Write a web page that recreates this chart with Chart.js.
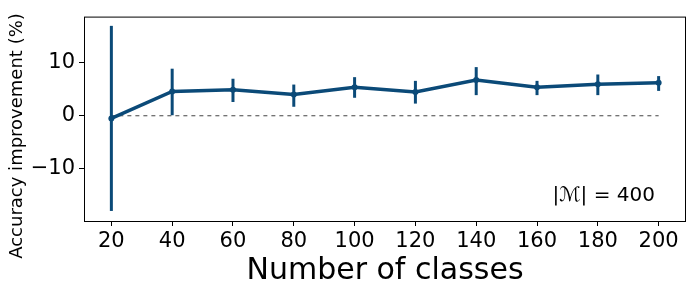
<!DOCTYPE html>
<html>
<head>
<meta charset="utf-8">
<script src="https://cdn.jsdelivr.net/npm/chart.js@4"></script>
<style>
  html, body { margin: 0; padding: 0; background: #fff; }
  #wrap { width: 700px; height: 300px; }
</style>
</head>
<body>
<div id="wrap"><canvas id="accChart" width="700" height="300"></canvas></div>
<script>
// values
const numClasses = [20, 40, 60, 80, 100, 120, 140, 160, 180, 200];
const improvement = [-0.5, 4.6, 4.9, 4.0, 5.4, 4.5, 6.75, 5.4, 5.95, 6.25];
const errLow  = [-18.0, 0.1, 2.6, 1.7, 3.4, 2.3, 3.9, 3.9, 3.9, 4.7];
const errHigh = [17.0, 8.9, 7.0, 5.9, 7.3, 6.6, 9.2, 6.6, 7.8, 7.5];
const xTicks = [20, 40, 60, 80, 100, 120, 140, 160, 180, 200];
const yTicks = [-10, 0, 10];

const lineColor = '#0b4a78';
const ctx = document.getElementById('accChart').getContext('2d');

// error bars, frame box, y label and annotation
const errorBars = {
    id: 'errorBars',
    afterDatasetsDraw(chart) {
        const { ctx, chartArea, scales } = chart;
        ctx.save();
        ctx.strokeStyle = lineColor;
        ctx.lineWidth = 3;
        numClasses.forEach((c, i) => {
            const x = scales.x.getPixelForValue(c);
            ctx.beginPath();
            ctx.moveTo(x, scales.y.getPixelForValue(errLow[i]));
            ctx.lineTo(x, scales.y.getPixelForValue(errHigh[i]));
            ctx.stroke();
        });
        ctx.strokeStyle = '#000';
        ctx.lineWidth = 1;
        ctx.strokeRect(chartArea.left + 0.5, chartArea.top + 0.5,
            chartArea.right - chartArea.left - 1, chartArea.bottom - chartArea.top);
        ctx.restore();
    },
    afterDraw(chart) {
        const { ctx, chartArea } = chart;
        ctx.save();
        ctx.font = '20px "DejaVu Sans"';
        ctx.fillStyle = '#000';
        ctx.textAlign = 'right';
        ctx.textBaseline = 'alphabetic';
        ctx.fillText('|ℳ| = 400', chartArea.right - 31, chartArea.bottom - 20);

        // y axis label (offset like the original figure)
        ctx.font = '18px "DejaVu Sans"';
        ctx.textAlign = 'center';
        ctx.translate(22, 136);
        ctx.rotate(-Math.PI / 2);
        ctx.fillText('Accuracy improvement (%)', 0, 0);
        ctx.restore();
    }
};

let chart = new Chart(ctx, {
    type: 'line',
    data: {
        datasets: [{
            data: numClasses.map((c, i) => ({ x: c, y: improvement[i] })),
            borderColor: lineColor,
            backgroundColor: lineColor,
            borderWidth: 3.5,
            pointRadius: 3,
            pointBorderWidth: 0,
            tension: 0
        }, {
            data: [{ x: numClasses[0], y: 0 }, { x: numClasses[numClasses.length - 1], y: 0 }],
            borderColor: '#444',
            borderWidth: 1,
            borderDash: [4, 4],
            pointRadius: 0
        }]
    },
    options: {
        responsive: false,
        animation: false,
        layout: { padding: { top: 15, right: 14, left: 0, bottom: 0 } },
        plugins: { legend: { display: false }, tooltip: { enabled: false } },
        scales: {
            x: {
                type: 'linear',
                min: 11,
                max: 209,
                afterBuildTicks: s => { s.ticks = xTicks.map(v => ({ value: v })); },
                afterFit: s => { s.height = 79; },
                grid: { drawOnChartArea: false, drawTicks: true, tickLength: 5, color: '#000' },
                border: { display: false },
                ticks: { color: '#000', font: { family: 'DejaVu Sans', size: 21 }, padding: 3, maxRotation: 0 },
                title: {
                    display: true,
                    text: 'Number of classes',
                    color: '#000',
                    font: { family: 'DejaVu Sans', size: 30 },
                    padding: { top: 0, bottom: 11 }
                }
            },
            y: {
                min: -19.9,
                max: 18.75,
                afterBuildTicks: s => { s.ticks = yTicks.map(v => ({ value: v })); },
                afterFit: s => { s.width = 84; },
                grid: { drawOnChartArea: false, drawTicks: true, tickLength: 5, color: '#000' },
                border: { display: false },
                ticks: {
                    color: '#000',
                    font: { family: 'DejaVu Sans', size: 21 },
                    padding: 4,
                    callback: v => String(v).replace('-', '\u2212')
                }
            }
        }
    },
    plugins: [errorBars]
});
</script>
</body>
</html>
